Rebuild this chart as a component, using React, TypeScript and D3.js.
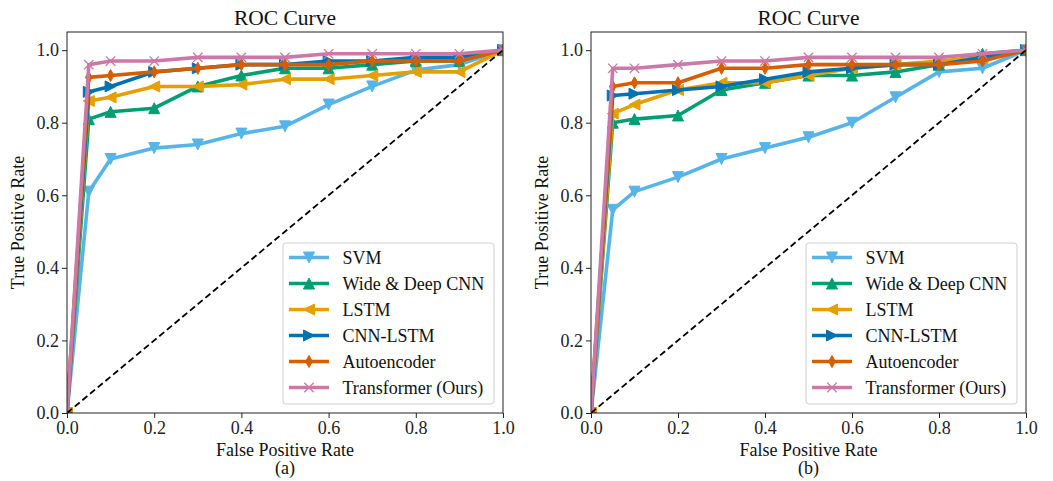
import { useEffect, useRef } from 'react';
import * as d3 from 'd3';

// False positive rate grid shared by every curve
const FPR = [0, 0.05, 0.1, 0.2, 0.3, 0.4, 0.5, 0.6, 0.7, 0.8, 0.9, 1.0];

const MODELS = ['SVM', 'Wide & Deep CNN', 'LSTM', 'CNN-LSTM', 'Autoencoder', 'Transformer (Ours)'];
const COLORS = ['#56B4E9', '#009E73', '#E69F00', '#0072B2', '#D55E00', '#CC79A7'];
const MARKERS = ['tri-down', 'tri-up', 'tri-left', 'tri-right', 'thin-diamond', 'x'];

// panel (a)
const SVM_A = [0, 0.61, 0.70, 0.73, 0.74, 0.77, 0.79, 0.85, 0.90, 0.945, 0.96, 1.0];
const WDCNN_A = [0, 0.81, 0.83, 0.84, 0.90, 0.93, 0.95, 0.95, 0.96, 0.97, 0.97, 1.0];
const LSTM_A = [0, 0.86, 0.87, 0.90, 0.90, 0.905, 0.92, 0.92, 0.93, 0.94, 0.94, 1.0];
const CNNLSTM_A = [0, 0.885, 0.90, 0.94, 0.95, 0.96, 0.96, 0.97, 0.97, 0.98, 0.98, 1.0];
const AE_A = [0, 0.925, 0.93, 0.94, 0.95, 0.96, 0.96, 0.96, 0.97, 0.97, 0.97, 1.0];
const TR_A = [0, 0.96, 0.97, 0.97, 0.98, 0.98, 0.98, 0.99, 0.99, 0.99, 0.99, 1.0];

// panel (b)
const SVM_B = [0, 0.56, 0.61, 0.65, 0.70, 0.73, 0.76, 0.80, 0.87, 0.94, 0.95, 1.0];
const WDCNN_B = [0, 0.80, 0.81, 0.82, 0.89, 0.91, 0.93, 0.93, 0.94, 0.96, 0.99, 1.0];
const LSTM_B = [0, 0.825, 0.85, 0.89, 0.91, 0.91, 0.93, 0.95, 0.96, 0.97, 0.98, 1.0];
const CNNLSTM_B = [0, 0.875, 0.88, 0.89, 0.90, 0.92, 0.94, 0.95, 0.96, 0.96, 0.98, 1.0];
const AE_B = [0, 0.90, 0.91, 0.91, 0.95, 0.95, 0.96, 0.96, 0.96, 0.96, 0.97, 1.0];
const TR_B = [0, 0.95, 0.95, 0.96, 0.97, 0.97, 0.98, 0.98, 0.98, 0.98, 0.99, 1.0];

const TICKS = [0, 0.2, 0.4, 0.6, 0.8, 1.0];

const PANELS = [
    { label: '(a)', left: 67, right: 503, series: [SVM_A, WDCNN_A, LSTM_A, CNNLSTM_A, AE_A, TR_A] },
    { label: '(b)', left: 591, right: 1026, series: [SVM_B, WDCNN_B, LSTM_B, CNNLSTM_B, AE_B, TR_B] },
];

const FONT = '"Liberation Serif", "Times New Roman", serif';
const WIDTH = 1053;
const HEIGHT = 481;
const TOP = 32;
const BOTTOM = 413;

// draws a matplotlib-like marker centred at 0,0
function drawMarker(g, type, color, s) {
    const h = s / 2;
    let pts = null;
    if (type === 'tri-down') pts = [[0, h], [-h, -h], [h, -h]];
    if (type === 'tri-up') pts = [[0, -h], [-h, h], [h, h]];
    if (type === 'tri-left') pts = [[-h, 0], [h, -h], [h, h]];
    if (type === 'tri-right') pts = [[h, 0], [-h, -h], [-h, h]];
    if (type === 'thin-diamond') pts = [[0, -h * 1.1], [h * 0.6, 0], [0, h * 1.1], [-h * 0.6, 0]];
    if (pts) {
        g.append('path')
            .attr('d', 'M' + pts.map(p => p.join(',')).join('L') + 'Z')
            .attr('fill', color)
            .attr('stroke', color)
            .attr('stroke-width', 1);
    } else {
        const k = h * 0.85;
        g.append('path')
            .attr('d', `M${-k},${-k}L${k},${k}M${-k},${k}L${k},${-k}`)
            .attr('stroke', color)
            .attr('stroke-width', 1.3)
            .attr('fill', 'none');
    }
}

export default function App() {
    const svgRef = useRef(null);

    useEffect(() => {
        const svg = d3.select(svgRef.current);
        svg.selectAll('*').remove();

        const y = d3.scaleLinear().domain([0, 1.05]).range([BOTTOM, TOP]);

        PANELS.forEach((panel, pi) => {
            const x = d3.scaleLinear().domain([0, 1]).range([panel.left, panel.right]);
            const clipId = `clip-${pi}`;

            svg.append('clipPath')
                .attr('id', clipId)
                .append('rect')
                .attr('x', panel.left)
                .attr('y', TOP)
                .attr('width', panel.right - panel.left)
                .attr('height', BOTTOM - TOP);

            const plot = svg.append('g').attr('clip-path', `url(#${clipId})`);

            const line = d3.line()
                .x((d, i) => x(FPR[i]))
                .y(d => y(d));

            panel.series.forEach((vals, si) => {
                plot.append('path')
                    .datum(vals)
                    .attr('d', line)
                    .attr('fill', 'none')
                    .attr('stroke', COLORS[si])
                    .attr('stroke-width', 3.6)
                    .attr('stroke-linejoin', 'round');

                vals.forEach((v, i) => {
                    const m = plot.append('g').attr('transform', `translate(${x(FPR[i])},${y(v)})`);
                    drawMarker(m, MARKERS[si], COLORS[si], 11);
                });
            });

            // chance line
            plot.append('line')
                .attr('x1', x(0)).attr('y1', y(0))
                .attr('x2', x(1)).attr('y2', y(1))
                .attr('stroke', '#000')
                .attr('stroke-width', 1.8)
                .attr('stroke-dasharray', '6.5,3.5');

            // spines
            svg.append('rect')
                .attr('x', panel.left)
                .attr('y', TOP)
                .attr('width', panel.right - panel.left)
                .attr('height', BOTTOM - TOP)
                .attr('fill', 'none')
                .attr('stroke', '#222')
                .attr('stroke-width', 1);

            // x axis
            const xAxis = svg.append('g')
                .attr('transform', `translate(0,${BOTTOM})`)
                .call(d3.axisBottom(x).tickValues(TICKS).tickFormat(d3.format('.1f')).tickSize(5).tickPadding(3));
            xAxis.select('.domain').remove();
            xAxis.selectAll('line').attr('stroke', '#222');
            xAxis.selectAll('text')
                .style('font-family', FONT)
                .style('font-size', '18px')
                .attr('fill', '#222');

            // y axis
            const yAxis = svg.append('g')
                .attr('transform', `translate(${panel.left},0)`)
                .call(d3.axisLeft(y).tickValues(TICKS).tickFormat(d3.format('.1f')).tickSize(5).tickPadding(3));
            yAxis.select('.domain').remove();
            yAxis.selectAll('line').attr('stroke', '#222');
            yAxis.selectAll('text')
                .style('font-family', FONT)
                .style('font-size', '18px')
                .attr('fill', '#222');

            const cx = (panel.left + panel.right) / 2;

            svg.append('text')
                .attr('x', cx)
                .attr('y', 25)
                .attr('text-anchor', 'middle')
                .style('font-family', FONT)
                .style('font-size', '21.5px')
                .attr('fill', '#111')
                .text('ROC Curve');

            svg.append('text')
                .attr('x', cx)
                .attr('y', 456)
                .attr('text-anchor', 'middle')
                .style('font-family', FONT)
                .style('font-size', '18px')
                .attr('fill', '#111')
                .text('False Positive Rate');

            svg.append('text')
                .attr('x', cx)
                .attr('y', 474)
                .attr('text-anchor', 'middle')
                .style('font-family', FONT)
                .style('font-size', '18px')
                .attr('fill', '#111')
                .text(panel.label);

            svg.append('text')
                .attr('transform', `translate(${panel.left - 43},${(TOP + BOTTOM) / 2}) rotate(-90)`)
                .attr('text-anchor', 'middle')
                .style('font-family', FONT)
                .style('font-size', '18px')
                .attr('fill', '#111')
                .text('True Positive Rate');

            // legend, lower right
            const lw = 211;
            const lh = 161;
            const lx = panel.right - 9 - lw;
            const ly = BOTTOM - 9 - lh;
            const legend = svg.append('g').attr('transform', `translate(${lx},${ly})`);
            legend.append('rect')
                .attr('width', lw)
                .attr('height', lh)
                .attr('rx', 3)
                .attr('fill', 'rgba(255,255,255,0.8)')
                .attr('stroke', '#d0d0d0')
                .attr('stroke-width', 1);

            MODELS.forEach((name, si) => {
                const ry = 14.5 + si * 26;
                legend.append('line')
                    .attr('x1', 6).attr('x2', 46)
                    .attr('y1', ry).attr('y2', ry)
                    .attr('stroke', COLORS[si])
                    .attr('stroke-width', 3.6);
                const m = legend.append('g').attr('transform', `translate(26,${ry})`);
                drawMarker(m, MARKERS[si], COLORS[si], 11);
                legend.append('text')
                    .attr('x', 59.5)
                    .attr('y', ry + 6)
                    .style('font-family', FONT)
                    .style('font-size', '18px')
                    .attr('fill', '#111')
                    .text(name);
            });
        });
    }, []);

    return (
        <svg
            ref={svgRef}
            width={WIDTH}
            height={HEIGHT}
            style={{ position: 'absolute', left: 0, top: 0, background: '#fff' }}
        />
    );
}
